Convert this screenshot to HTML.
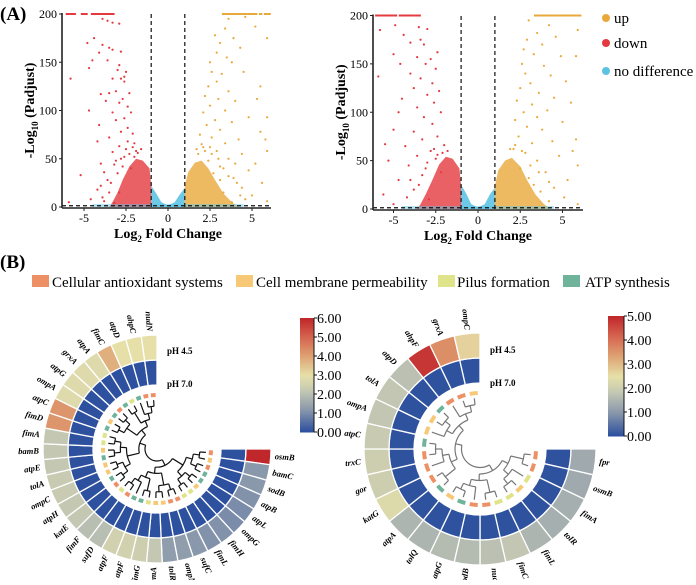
<!DOCTYPE html>
<html><head><meta charset="utf-8"><style>
html,body{margin:0;padding:0;background:#fff;}
svg, svg text{font-family:"Liberation Serif","DejaVu Serif",serif;}
</style></head><body>
<svg id="fig" width="696" height="580" viewBox="0 0 696 580" xmlns="http://www.w3.org/2000/svg" font-family="Liberation Serif, DejaVu Serif, serif">
<text x="0" y="20" font-size="19" font-weight="bold">(A)</text>
<text x="0" y="268" font-size="19" font-weight="bold">(B)</text>
<g id="legendA">
<circle cx="606" cy="18" r="4" fill="#e9a93a"/><text x="614" y="23" font-size="15">up</text>
<circle cx="606" cy="43" r="4" fill="#e3393f"/><text x="614" y="48" font-size="15">down</text>
<circle cx="606" cy="71" r="4" fill="#5ec3e3"/><text x="614" y="76" font-size="15">no difference</text>
</g>
<g font-size="15">
<rect x="32" y="275" width="17" height="12" fill="#ee9066"/><text x="52" y="287">Cellular antioxidant systems</text>
<rect x="236" y="275" width="17" height="12" fill="#f7c977"/><text x="256" y="287">Cell membrane permeability</text>
<rect x="438" y="275" width="17" height="12" fill="#dfe38a"/><text x="457" y="287">Pilus formation</text>
<rect x="563" y="275" width="17" height="12" fill="#6fb39a"/><text x="585" y="287">ATP synthesis</text>
</g>
</svg>
<script>
// ---------- Volcano data ----------
const yTicks=[0,50,100,150,200];
const xTicks=[-5,-2.5,0,2.5,5];
const topDownL=[-6,-5.8,-5.6,-5.1,-4.9,-4.5,-4.4,-4.3,-4.2,-4.1,-3.9,-3.7,-3.6,-3.5,-3.4,-3.3];
const topUpL=[3.3,3.5,3.6,3.7,3.8,3.9,4.0,4.2,4.4,4.6,4.8,5.0,5.2,5.5,5.8,6.0];
const downL=[[-3.9,195],[-3.6,193],[-3.3,191],[-2.9,190],[-4.4,175],[-4.8,170],[-3.9,168],[-3.5,165],[-3.3,163],[-2.8,161],[-4.1,160],[-4.5,152],[-3.6,152],[-2.9,147],[-4.7,144],[-3.0,142],[-2.5,140],[-2.6,135],[-2.8,133],[-3.3,133],[-5.8,133],[-2.6,130],[-3.5,118],[-4.0,117],[-3.1,120],[-2.3,118],[-2.7,112],[-3.7,110],[-2.9,108],[-2.4,104],[-4.7,100],[-3.3,98],[-2.2,98],[-2.6,92],[-3.1,90],[-4.1,85],[-2.4,82],[-2.8,78],[-2.1,76],[-3.5,72],[-4.2,68],[-2.0,66],[-2.9,63],[-2.5,60],[-3.3,57],[-1.9,58],[-2.3,55],[-4.0,45],[-3.1,48],[-2.7,42],[-5.2,33],[-3.8,36],[-2.2,40],[-3.4,25],[-4.2,18],[-3.9,10],[-5.9,5],[-4.6,8],[-2.9,15],[-3.2,4],[-2.6,52],[-2.1,62],[-1.8,56],[-2.4,68],[-3.0,35],[-3.6,28],[-3.2,44],[-2.8,50],[-1.6,60],[-2.0,52],[-3.5,15],[-4.0,22],[-3.8,6]];
const upL=[[3.6,195],[4.6,197],[5.2,187],[3.4,185],[2.8,178],[3.9,175],[3.1,170],[4.3,165],[2.9,160],[3.5,155],[2.5,150],[3.8,150],[5.9,175],[2.6,140],[3.2,138],[4.5,140],[2.9,130],[5.5,125],[2.4,125],[3.6,120],[2.2,115],[3.0,112],[4.0,110],[5.3,112],[2.5,105],[3.4,100],[2.1,98],[5.9,93],[4.8,93],[2.8,90],[3.8,88],[2.3,85],[3.1,80],[5.5,78],[1.9,75],[2.6,72],[4.2,70],[5.8,70],[3.4,66],[2.1,62],[2.9,58],[5.9,58],[4.4,55],[1.8,55],[3.6,50],[2.4,48],[5.2,45],[3.1,42],[4.8,38],[2.7,35],[3.9,30],[5.6,25],[4.4,20],[3.3,15],[5.0,12],[4.6,8],[5.9,6],[3.8,5],[2.2,58],[2.6,55],[3.0,50],[3.3,40],[2.0,65],[1.7,60],[3.6,32],[4.1,25],[4.3,12],[3.1,28],[2.5,62],[4.0,45]];
const downBlobL=[[-1,0],[-1,22],[-1.1,40],[-1.5,48],[-1.9,50],[-2.3,42],[-2.7,28],[-3.0,15],[-3.3,5],[-3.5,0]];
const upBlobL=[[1,0],[1,22],[1.2,36],[1.6,46],[2.0,48],[2.4,40],[2.8,28],[3.3,14],[3.8,5],[4.2,0]];
const nsBlobL=[[-1,0],[-1,22],[-0.7,14],[-0.4,5],[0,1.5],[0.4,5],[0.7,13],[1,20],[1,0]];
const topDownR=[-6,-5.9,-5.7,-5.5,-5.3,-5.1,-4.9,-4.6,-4.4,-4.2,-4.0,-3.8,-3.6,-3.5];
const topUpR=[3.4,3.6,3.8,4.0,4.2,4.4,4.6,4.8,5.0,5.2,5.4,5.6,5.8,6.0];
const downR=[[-4.9,190],[-3.5,188],[-3.0,186],[-5.8,185],[-3.4,175],[-3.2,170],[-4.4,180],[-4.0,172],[-2.4,162],[-5.0,160],[-3.6,157],[-2.8,155],[-4.6,150],[-3.1,150],[-2.5,145],[-4.0,140],[-3.4,135],[-2.7,130],[-5.9,137],[-3.8,125],[-2.3,122],[-4.5,114],[-3.0,118],[-2.6,110],[-3.6,105],[-4.7,100],[-2.2,100],[-3.2,95],[-2.7,88],[-5.0,82],[-3.8,80],[-2.4,75],[-3.3,72],[-4.3,65],[-2.0,66],[-2.8,60],[-5.5,67],[-3.6,55],[-2.5,52],[-4.1,45],[-3.1,42],[-5.3,50],[-2.2,38],[-4.7,30],[-3.5,25],[-5.6,15],[-4.2,12],[-2.9,10],[-5.0,5],[-3.8,20],[-2.1,58],[-2.6,62],[-1.8,60],[-3.0,48],[-2.4,56],[-3.3,35],[-4.0,30]];
const upR=[[3.0,195],[4.2,190],[5.9,185],[3.5,182],[2.9,175],[4.6,178],[3.8,170],[2.7,165],[3.3,160],[4.9,158],[2.6,150],[3.9,148],[5.8,158],[2.8,140],[4.3,138],[3.1,130],[5.2,132],[2.5,125],[3.6,120],[4.5,115],[2.3,112],[3.2,108],[5.5,110],[2.7,100],[4.1,102],[3.5,95],[2.2,92],[5.0,90],[2.9,85],[3.8,82],[2.4,75],[4.4,70],[3.2,68],[5.8,72],[2.1,62],[2.8,58],[4.8,55],[3.5,50],[5.9,45],[2.5,42],[4.0,38],[3.0,32],[5.3,30],[4.5,22],[3.7,18],[5.1,12],[4.2,8],[5.9,5],[3.3,25],[5.6,60],[2.2,66],[1.9,62],[2.6,60],[3.1,45],[3.6,38],[4.2,28]];
const downBlobR=[[-1,0],[-1,24],[-1.1,42],[-1.5,52],[-1.9,54],[-2.3,46],[-2.7,30],[-3.1,15],[-3.4,5],[-3.6,0]];
const upBlobR=[[1,0],[1,24],[1.2,40],[1.6,50],[2.0,53],[2.5,44],[2.9,30],[3.4,15],[3.9,5],[4.3,0]];
const nsBlobR=[[-1,0],[-1,25],[-0.7,16],[-0.4,5],[0,1.5],[0.4,5],[0.7,15],[1,22],[1,0]];

// ---------- Circular heatmap data ----------
const genesL=["osmB","bamC","sodB","atpB","atpL","ompG","fimH","fimL","sufC","ompN","tolR","bamA","fimG","atpF","atpF","sufD","fimF","katE","atpH","ompC","tolA","atpE","bamB","fimA","fimD","atpC","ompA","atpG","grxA","atpA","fimC","atpD","ahpC","nudN"];
const ph45L=[6.0,1.2,1.2,1.1,1.0,1.0,1.1,1.1,1.2,1.3,1.3,2.2,2.4,2.5,2.5,2.0,2.0,2.2,2.2,2.3,2.3,2.2,2.2,2.2,4.2,4.2,2.8,2.8,2.8,2.8,3.8,3.0,3.0,3.0];
const ph70L=[0.05,0.05,0.05,0.05,0.05,0.05,0.05,0.05,0.05,0.05,0.05,0.05,0.05,0.05,0.05,0.05,0.05,0.05,0.05,0.05,0.05,0.05,0.05,0.05,0.05,0.05,0.05,0.05,0.05,0.05,0.05,0.05,0.05,0.05];
const catL=["A","M","A","T","T","M","P","P","A","A","M","M","P","T","T","A","P","A","T","M","M","T","M","P","P","T","M","T","A","T","P","T","A","A"];
const genesR=["fpr","osmB","fimA","tolR","fimL","fimC","nudL","sodB","atpG","tolQ","atpA","katG","gor","trxC","atpC","ompA","tolA","atpD","ahpF","grxA","ompC"];
const ph45R=[1.3,1.3,1.4,1.4,1.5,1.8,1.7,1.6,1.6,1.5,1.5,2.3,2.0,2.0,1.9,1.8,1.8,1.7,4.8,3.6,2.7];
const ph70R=[0.05,0.05,0.05,0.05,0.05,0.05,0.05,0.05,0.05,0.05,0.05,0.05,0.05,0.05,0.05,0.05,0.05,0.05,0.05,0.05,0.05];
const catR=["A","A","P","M","P","P","A","A","T","M","T","A","A","A","T","M","M","T","A","A","M"];
const cbTicksL=[0,1,2,3,4,5,6];
const cbTicksR=[0,1,2,3,4,5];

const NS="http://www.w3.org/2000/svg";
const svg=document.getElementById('fig');
function mk(tag,attrs,parent){const e=document.createElementNS(NS,tag);for(const k in attrs)e.setAttribute(k,attrs[k]);(parent||svg).appendChild(e);return e;}

function volcano(cfg){
  const g=mk('g',{});
  
  
  const sx=v=>cfg.x0+v*cfg.kx, sy=v=>cfg.yb-v*(cfg.yb-cfg.yt)/200;
  const poly=(pts,fill,op)=>mk('polygon',{points:pts.map(q=>sx(q[0])+','+sy(q[1])).join(' '),fill:fill,'fill-opacity':op},g);
  const pN=poly(cfg.ns,'#5ec3e3',0.9);
  
  
  const pD=poly(cfg.dblob,'#e3393f',0.8);
  
  
  const pU=poly(cfg.ublob,'#e9a93a',0.8);
  
  
  mk('rect',{x:sx(-4.5),y:sy(3),width:sx(4.5)-sx(-4.5),height:sy(0)-sy(3),fill:'#5ec3e3','fill-opacity':0.5},g);
  cfg.down.forEach(p=>{const c=mk('circle',{cx:sx(p[0]),cy:sy(p[1]),r:1.1,fill:'#e3393f'},g);
    
    });
  cfg.up.forEach(p=>{const c=mk('circle',{cx:sx(p[0]),cy:sy(p[1]),r:1.1,fill:'#e9a93a'},g);
    
    });
  cfg.topD.forEach(x=>{const c=mk('rect',{x:sx(x)-1.5,y:sy(200)-1,width:3.5,height:2,fill:'#e3393f'},g);
    
    });
  cfg.topU.forEach(x=>{const c=mk('rect',{x:sx(x)-1.5,y:sy(200)-1,width:3.5,height:2,fill:'#e9a93a'},g);
    
    });
  [-1,1].forEach(v=>mk('line',{x1:sx(v),x2:sx(v),y1:sy(0),y2:sy(200),stroke:'#111','stroke-width':1.2,'stroke-dasharray':'4,3'},g));
  mk('line',{x1:cfg.xl,x2:cfg.xr,y1:sy(1.3),y2:sy(1.3),stroke:'#111','stroke-width':1.2,'stroke-dasharray':'4,3'},g);
  mk('line',{x1:cfg.xl,x2:cfg.xl,y1:sy(200)-1,y2:sy(0)+1,stroke:'#222','stroke-width':1.6},g);
  mk('line',{x1:cfg.xl,x2:cfg.xr,y1:sy(0)+1,y2:sy(0)+1,stroke:'#222','stroke-width':1.6},g);
  yTicks.forEach(t=>{mk('line',{x1:cfg.xl-3,x2:cfg.xl,y1:sy(t),y2:sy(t),stroke:'#222'},g);
    const tx=mk('text',{x:cfg.xl-5,y:sy(t)+4,'font-size':12,'text-anchor':'end'},g);tx.textContent=t;
    
    });
  xTicks.forEach(t=>{mk('line',{x1:sx(t),x2:sx(t),y1:sy(0)+1,y2:sy(0)+4,stroke:'#222'},g);
    const tx=mk('text',{x:sx(t),y:sy(0)+15,'font-size':12,'text-anchor':'middle'},g);tx.textContent=t;
    
    });
  const xt=mk('text',{x:sx(0),y:sy(0)+31,'font-size':14,'font-weight':'bold','text-anchor':'middle'},g);
  xt.innerHTML='Log<tspan font-size="9" dy="4">2</tspan><tspan dy="-4"> Fold Change</tspan>';
  
  
  const yt=mk('text',{transform:`translate(${cfg.xl-28},${sy(100)}) rotate(-90)`,'font-size':14,'font-weight':'bold','text-anchor':'middle'},g);
  yt.innerHTML='-Log<tspan font-size="9" dy="4">10</tspan><tspan dy="-4"> (Padjust)</tspan>';
  
  
}
volcano({name:'volcano-plot-left',x0:168,kx:16.8,xl:62,xr:271,yt:14,yb:207,topD:topDownL,topU:topUpL,down:downL,up:upL,dblob:downBlobL,ublob:upBlobL,ns:nsBlobL});
volcano({name:'volcano-plot-right',x0:478,kx:16.9,xl:373,xr:583,yt:15.5,yb:209,topD:topDownR,topU:topUpR,down:downR,up:upR,dblob:downBlobR,ublob:upBlobR,ns:nsBlobR});

// ---------- color map ----------
const stops=[[0,[42,78,158]],[0.2,[138,152,172]],[0.37,[197,201,179]],[0.5,[230,224,168]],[0.67,[222,161,114]],[0.83,[214,102,80]],[1,[192,39,43]]];
function cmap(f){f=Math.max(0,Math.min(1,f));for(let i=1;i<stops.length;i++){if(f<=stops[i][0]){const a=stops[i-1],b=stops[i],t=(f-a[0])/(b[0]-a[0]);return 'rgb('+a[1].map((v,k)=>Math.round(v+(b[1][k]-v)*t)).join(',')+')';}}return 'rgb(192,39,43)';}
const catColor={A:'#ee9066',M:'#f7c977',P:'#dfe38a',T:'#6fb39a'};

function arcPath(cx,cy,r1,r2,a1,a2){
  const p=(r,a)=>[cx+r*Math.cos(a),cy+r*Math.sin(a)];
  const A=p(r2,a1),B=p(r2,a2),C=p(r1,a2),D=p(r1,a1),lg=(a2-a1)>Math.PI?1:0;
  return `M${A}A${r2},${r2} 0 ${lg} 1 ${B}L${C}A${r1},${r1} 0 ${lg} 0 ${D}Z`;
}
function circ(cfg){
  const g=mk('g',{});
  
  
  const n=cfg.genes.length, span=1.5*Math.PI, st=span/n;
  const ang=i=>i*st;
  cfg.genes.forEach((gname,i)=>{
    const a1=ang(i),a2=ang(i+1);
    const c1=mk('path',{d:arcPath(cfg.cx,cfg.cy,cfg.r1,cfg.r2,a1,a2),fill:cmap(cfg.v70[i]/cfg.max),stroke:'#fff','stroke-width':1.3},g);
    
    
    const c2=mk('path',{d:arcPath(cfg.cx,cfg.cy,cfg.r2,cfg.r3,a1,a2),fill:cmap(cfg.v45[i]/cfg.max),stroke:'#fff','stroke-width':1.3},g);
    
    
    const gap=st*0.18;
    const c3=mk('path',{d:arcPath(cfg.cx,cfg.cy,cfg.r1-12,cfg.r1-8,a1+gap,a2-gap),fill:catColor[cfg.cat[i]]},g);
    
    
    const am=(a1+a2)/2, deg=am*180/Math.PI;
    const lx=cfg.cx+(cfg.r3+4)*Math.cos(am), ly=cfg.cy+(cfg.r3+4)*Math.sin(am);
    const flip=(deg>90&&deg<270);
    const t=mk('text',{x:lx,y:ly,'font-size':8.5,'font-style':'italic','font-weight':'bold','dominant-baseline':'middle','text-anchor':flip?'end':'start',transform:`rotate(${flip?deg+180:deg},${lx},${ly})`},g);
    t.textContent=gname;
    
    
  });
  const rl=cfg.r1-15, r0=12;
  function build(lo,hi){
    if(hi-lo===1) return {a:ang(lo)+st/2,r:rl};
    const mid=Math.floor((lo+hi)/2);
    const L=build(lo,mid),R=build(mid,hi);
    const r=Math.max(r0,Math.min(L.r,R.r)-(rl-r0)/6);
    [L,R].forEach(ch=>mk('line',{x1:cfg.cx+r*Math.cos(ch.a),y1:cfg.cy+r*Math.sin(ch.a),x2:cfg.cx+ch.r*Math.cos(ch.a),y2:cfg.cy+ch.r*Math.sin(ch.a),stroke:cfg.tree,'stroke-width':1.2},g));
    const pa=(L.a<R.a)?[L.a,R.a]:[R.a,L.a];
    mk('path',{d:`M${cfg.cx+r*Math.cos(pa[0])},${cfg.cy+r*Math.sin(pa[0])}A${r},${r} 0 ${pa[1]-pa[0]>Math.PI?1:0} 1 ${cfg.cx+r*Math.cos(pa[1])},${cfg.cy+r*Math.sin(pa[1])}`,fill:'none',stroke:cfg.tree,'stroke-width':1.2},g);
    return {a:(L.a+R.a)/2,r:r};
  }
  build(0,n);
  const t1=mk('text',{x:cfg.cx+10,y:cfg.cy-cfg.r2-cfg.dyl-8,'font-size':9,'font-weight':'bold'},g);t1.textContent='pH 4.5';
  
  
  const t2=mk('text',{x:cfg.cx+10,y:cfg.cy-cfg.r1-cfg.dyl,'font-size':9,'font-weight':'bold'},g);t2.textContent='pH 7.0';
  
  
  const cb=mk('g',{},g);
  
  
  const N=60,h=(cfg.cbb-cfg.cbt)/N;
  for(let k=0;k<N;k++) mk('rect',{x:cfg.cbx,y:cfg.cbb-(k+1)*h,width:cfg.cbw,height:h+0.5,fill:cmap((k+0.5)/N)},cb);
  mk('line',{x1:cfg.cbx+cfg.cbw,x2:cfg.cbx+cfg.cbw,y1:cfg.cbt,y2:cfg.cbb,stroke:'#111'},cb);
  cfg.ticks.forEach(v=>{const y=cfg.cbb-v/cfg.max*(cfg.cbb-cfg.cbt);
    mk('line',{x1:cfg.cbx+cfg.cbw,x2:cfg.cbx+cfg.cbw+3,y1:y,y2:y,stroke:'#111'},cb);
    const tt=mk('text',{x:cfg.cbx+cfg.cbw+3,y:y+5,'font-size':14},cb);tt.textContent=v.toFixed(2);
    
    });
}
circ({name:'circular-heatmap-left',cx:157,cy:449,r1:64,r2:89,r3:114,genes:genesL,v45:ph45L,v70:ph70L,cat:catL,max:6,tree:'#111',dyl:-2,cbx:300,cbw:14,cbt:318,cbb:432,ticks:cbTicksL});
circ({name:'circular-heatmap-right',cx:480,cy:449,r1:66,r2:91,r3:116,genes:genesR,v45:ph45R,v70:ph70R,cat:catR,max:5,tree:'#777',dyl:-3,cbx:608,cbw:16,cbt:316,cbb:436,ticks:cbTicksR});
</script>
</body></html>
